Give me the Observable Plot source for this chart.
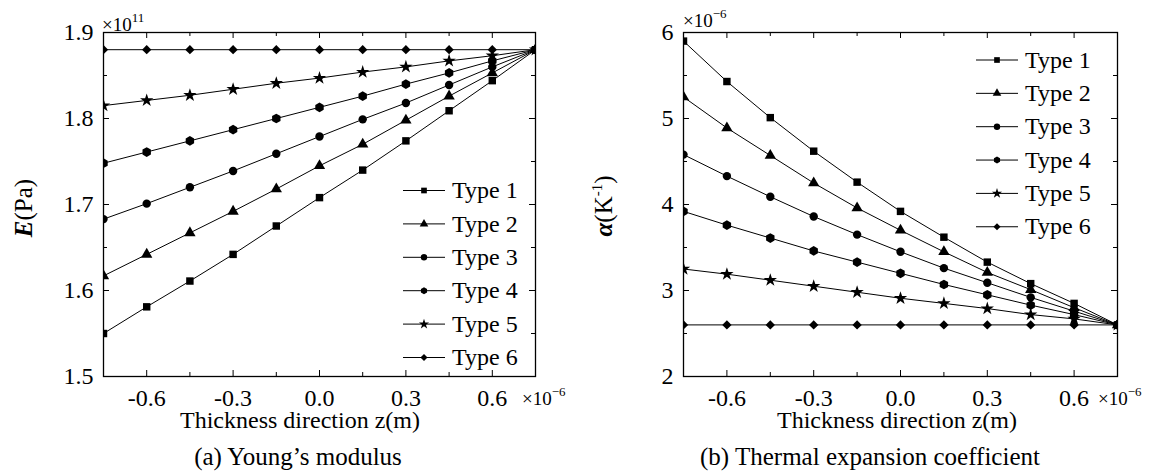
<!DOCTYPE html>
<html><head><meta charset="utf-8">
<script src="https://cdn.jsdelivr.net/npm/d3@7"></script>
<script src="https://cdn.jsdelivr.net/npm/@observablehq/plot@0.6"></script>
<style>
body{margin:0;background:#fff;}
#wrap{position:relative;width:1154px;height:472px;overflow:hidden;background:#fff;}
#wrap > svg{position:absolute;top:0;}
</style></head><body><div id="wrap"></div>
<script>
// ---- data ----
const z = [-0.75, -0.6, -0.45, -0.3, -0.15, 0, 0.15, 0.3, 0.45, 0.6, 0.75];
const types = ["Type 1", "Type 2", "Type 3", "Type 4", "Type 5", "Type 6"];
const symbols = ["square", "triangle", "circle", "hexagon", "star", "diamond2"];

// Young's modulus (x1e11 Pa)
const E_type1 = [1.550, 1.581, 1.611, 1.642, 1.675, 1.708, 1.740, 1.774, 1.809, 1.844, 1.880];
const E_type2 = [1.617, 1.642, 1.667, 1.692, 1.718, 1.745, 1.770, 1.798, 1.826, 1.853, 1.880];
const E_type3 = [1.683, 1.701, 1.720, 1.739, 1.759, 1.779, 1.799, 1.818, 1.839, 1.860, 1.880];
const E_type4 = [1.748, 1.761, 1.774, 1.787, 1.800, 1.813, 1.826, 1.840, 1.853, 1.867, 1.880];
const E_type5 = [1.815, 1.821, 1.827, 1.834, 1.841, 1.847, 1.854, 1.860, 1.867, 1.873, 1.880];
const E_type6 = [1.880, 1.880, 1.880, 1.880, 1.880, 1.880, 1.880, 1.880, 1.880, 1.880, 1.880];

// Thermal expansion coefficient (x1e-6 1/K)
const A_type1 = [5.90, 5.43, 5.01, 4.62, 4.26, 3.92, 3.62, 3.33, 3.08, 2.85, 2.60];
const A_type2 = [5.25, 4.89, 4.57, 4.25, 3.96, 3.70, 3.45, 3.21, 3.01, 2.80, 2.60];
const A_type3 = [4.58, 4.33, 4.09, 3.86, 3.65, 3.45, 3.26, 3.09, 2.92, 2.76, 2.60];
const A_type4 = [3.92, 3.76, 3.61, 3.46, 3.33, 3.20, 3.07, 2.95, 2.83, 2.72, 2.60];
const A_type5 = [3.25, 3.19, 3.12, 3.05, 2.98, 2.91, 2.85, 2.79, 2.72, 2.67, 2.60];
const A_type6 = [2.60, 2.60, 2.60, 2.60, 2.60, 2.60, 2.60, 2.60, 2.60, 2.60, 2.60];

const xMajor = [-0.6, -0.3, 0, 0.3, 0.6];
const xMinor = [-0.45, -0.15, 0.15, 0.45];
const eMajor = [1.5, 1.6, 1.7, 1.8, 1.9];
const eMinor = [1.55, 1.65, 1.75, 1.85];
const aMajor = [2, 3, 4, 5, 6];
const aMinor = [2.5, 3.5, 4.5, 5.5];

const FONT = '"Liberation Serif", "Times New Roman", Times, serif';

function panel({series, yDomain, yMajor, yMinor, yFmt, marginLeft, marginRight}) {
  const data = [];
  types.forEach((t, i) => z.forEach((x, j) => data.push({type: t, z: x, v: series[i][j]})));
  const W = 577, H = 410, mt = 32, mb = 34;
  const pw = W - marginLeft - marginRight, ph = H - mt - mb;
  const tk = (vals, len, dim) => dim === "x"
    ? [Plot.tickX(vals, {x: d => d, insetTop: ph - len, stroke: "black", strokeWidth: 1}),
       Plot.tickX(vals, {x: d => d, insetBottom: ph - len, stroke: "black", strokeWidth: 1})]
    : [Plot.tickY(vals, {y: d => d, insetRight: pw - len, stroke: "black", strokeWidth: 1}),
       Plot.tickY(vals, {y: d => d, insetLeft: pw - len, stroke: "black", strokeWidth: 1})];
  return Plot.plot({
    width: W, height: H, marginTop: mt, marginBottom: mb, marginLeft, marginRight,
    style: {fontSize: "24px", color: "#000", background: "transparent", overflow: "visible"},
    x: {domain: [-0.75, 0.75]},
    y: {domain: yDomain},
    symbol: {domain: types, range: symbols},
    marks: [
      ...tk(xMajor, 6, "x"), ...tk(xMinor, 4, "x"),
      ...tk(yMajor, 6, "y"), ...tk(yMinor, 4, "y"),
      Plot.axisX({ticks: xMajor, tickSize: 0, tickPadding: 12, tickFormat: d => d.toFixed(1), label: null, fontSize: 24}),
      Plot.axisY({ticks: yMajor, tickSize: 0, tickPadding: 10, tickFormat: yFmt, label: null, fontSize: 24}),
      Plot.line(data, {x: "z", y: "v", z: "type", stroke: "black", strokeWidth: 1}),
      Plot.dot(data, {x: "z", y: "v", symbol: "type", fill: "black", stroke: "none", r: 4.2, clip: true}),
      Plot.frame({stroke: "black", strokeWidth: 1.3})
    ]
  });
}

const wrap = document.getElementById("wrap");
const pa = panel({
  series: [E_type1, E_type2, E_type3, E_type4, E_type5, E_type6],
  yDomain: [1.5, 1.9], yMajor: eMajor, yMinor: eMinor, yFmt: d => d.toFixed(1),
  marginLeft: 103, marginRight: 42
});
pa.style.left = "0px";
wrap.appendChild(pa);
const pb = panel({
  series: [A_type1, A_type2, A_type3, A_type4, A_type5, A_type6],
  yDomain: [2, 6], yMajor: aMajor, yMinor: aMinor, yFmt: d => String(d),
  marginLeft: 106, marginRight: 37
});
pb.style.left = "577px";
wrap.appendChild(pb);

// ---- annotation overlay (texts, legends) ----
const ov = d3.select(wrap).append("svg")
  .attr("width", 1154).attr("height", 472)
  .style("left", "0px").style("pointer-events", "none");

function txt(x, y, size, anchor) {
  return ov.append("text").attr("x", x).attr("y", y).attr("font-size", size)
    .attr("text-anchor", anchor || "start").attr("fill", "#000");
}
// axis titles
txt(300, 428, 24, "middle").text("Thickness direction z(m)");
txt(897, 428, 24, "middle").text("Thickness direction z(m)");
// captions
txt(298, 465, 25, "middle").text("(a) Young\u2019s modulus");
txt(870, 465, 25, "middle").text("(b) Thermal expansion coefficient");
// exponent labels
function expo(x, y, base, sup) {
  const t = txt(x, y, 19);
  t.append("tspan").text(base);
  t.append("tspan").attr("dy", -9).attr("font-size", 13).text(sup);
}
expo(102, 31, "\u00d710", "11");
expo(522, 405, "\u00d710", "\u22126");
expo(683, 27, "\u00d710", "\u22126");
expo(1098, 405, "\u00d710", "\u22126");

// y labels
const yl1 = ov.append("text").attr("transform", "translate(32,208) rotate(-90)")
  .attr("text-anchor", "middle").attr("font-size", 25);
yl1.append("tspan").attr("font-weight", "bold").attr("font-style", "italic").text("E");
yl1.append("tspan").text("(Pa)");
const yl2 = ov.append("text").attr("transform", "translate(612,206) rotate(-90)")
  .attr("text-anchor", "middle").attr("font-size", 25);
yl2.append("tspan").attr("font-weight", "bold").attr("font-style", "italic").text("\u03b1");
yl2.append("tspan").text("(K");
yl2.append("tspan").attr("dy", -10).attr("font-size", 15).text("-1");
yl2.append("tspan").attr("dy", 10).text(")");

// legends
const hexagon = {draw(ctx, size) {
  const r = Math.sqrt(size / (1.5 * Math.sqrt(3)));
  for (let i = 0; i < 6; i++) {
    const a = Math.PI / 3 * i + Math.PI / 6;
    const px = r * Math.cos(a), py = r * Math.sin(a);
    i ? ctx.lineTo(px, py) : ctx.moveTo(px, py);
  }
  ctx.closePath();
}};
const symMap = {square: d3.symbolSquare, triangle: d3.symbolTriangle, circle: d3.symbolCircle,
  hexagon: hexagon, star: d3.symbolStar, diamond2: d3.symbolDiamond2};
function legend(x0, x1, tx, y0, step) {
  types.forEach((t, i) => {
    const y = y0 + i * step;
    ov.append("line").attr("x1", x0).attr("x2", x1).attr("y1", y).attr("y2", y)
      .attr("stroke", "#000").attr("stroke-width", 1);
    ov.append("path").attr("d", d3.symbol(symMap[symbols[i]], Math.PI * 3.2 * 3.2)())
      .attr("transform", `translate(${(x0 + x1) / 2},${y})`).attr("fill", "#000");
    txt(tx, y, 24).attr("dy", "0.32em").text(t);
  });
}
legend(403, 445, 452, 190.5, 33.4);
legend(976, 1018, 1025, 60, 33.35);

// apply the serif font with inline !important priority on every text element
wrap.querySelectorAll("svg, text, tspan").forEach(t => t.style.setProperty("font-family", FONT, "important"));
</script></body></html>
